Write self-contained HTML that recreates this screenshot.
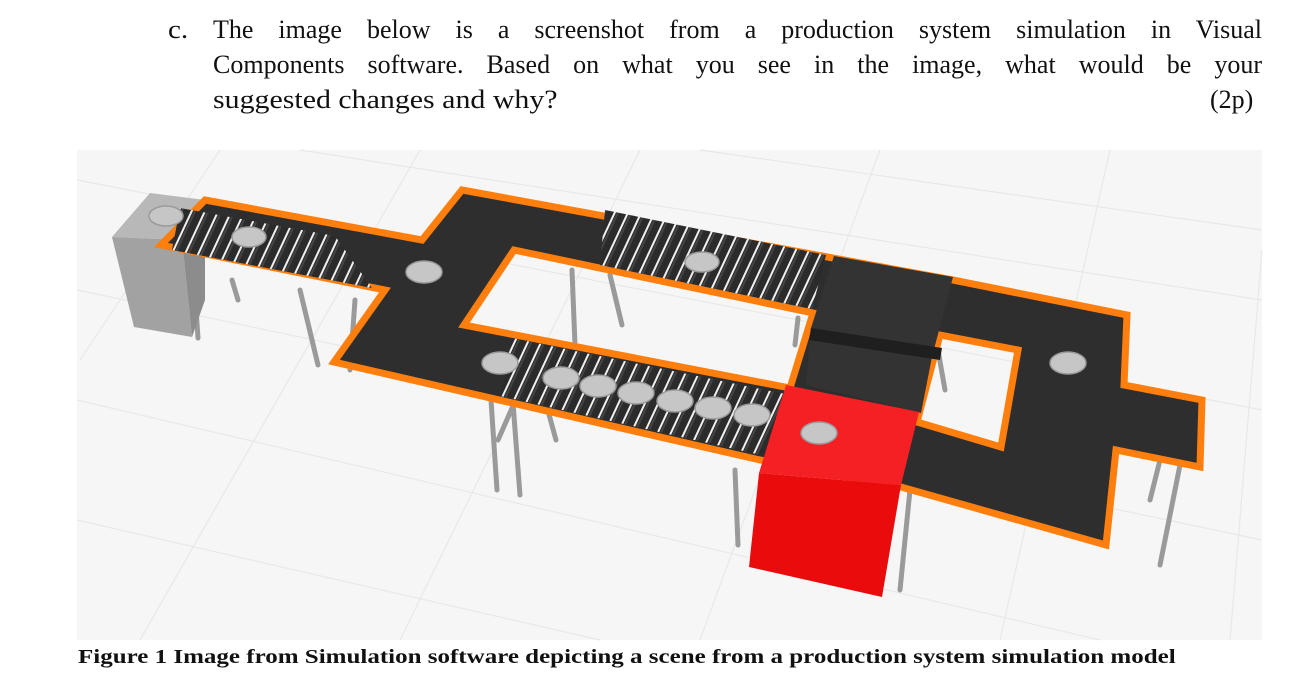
<!DOCTYPE html>
<html><head><meta charset="utf-8"><style>
body{margin:0;width:1298px;height:697px;background:#fff;position:relative;overflow:hidden;font-family:"Liberation Serif",serif;}
.t{position:absolute;font-size:26px;line-height:35px;color:#111;white-space:nowrap;}
.j{left:213px;width:1049px;text-align:justify;text-align-last:justify;white-space:normal;}
</style></head><body>
<div class="t" style="left:168px;top:12px;transform:scaleX(1.12);transform-origin:left">c.</div>
<div class="t j" style="top:12px">The image below is a screenshot from a production system simulation in Visual</div>
<div class="t j" style="top:47px">Components software. Based on what you see in the image, what would be your</div>
<div class="t" style="left:213px;top:82px;transform:scaleX(1.15);transform-origin:left">suggested changes and why?</div>
<div class="t" style="left:1210px;top:82px">(2p)</div>
<svg style="position:absolute;left:0;top:0" width="1298" height="697">
<defs>
<pattern id="rl" width="12" height="40" patternUnits="userSpaceOnUse" patternTransform="rotate(25)">
<rect width="12" height="40" fill="#f0f0f0"/><rect x="0" width="10" height="40" fill="#2b2b2b"/><rect x="1" width="2" height="40" fill="#444"/></pattern>
</defs>
<rect x="77" y="150" width="1185" height="490" fill="#f6f6f6"/>
<g stroke="#e8e8e8" stroke-width="1.2">
<line x1="77" y1="180" x2="1262" y2="410"/><line x1="77" y1="290" x2="1262" y2="540"/><line x1="77" y1="400" x2="1100" y2="640"/><line x1="77" y1="520" x2="600" y2="640"/><line x1="300" y1="150" x2="1262" y2="300"/><line x1="700" y1="150" x2="1262" y2="230"/>
<line x1="220" y1="150" x2="80" y2="360"/><line x1="420" y1="150" x2="140" y2="640"/><line x1="640" y1="150" x2="400" y2="640"/><line x1="880" y1="150" x2="700" y2="640"/><line x1="1110" y1="150" x2="1000" y2="640"/><line x1="1262" y1="250" x2="1230" y2="640"/>
</g>
<g stroke="#9a9a9a" stroke-width="5" stroke-linecap="round">
<line x1="300" y1="290" x2="318" y2="365"/><line x1="355" y1="300" x2="350" y2="370"/><line x1="232" y1="280" x2="238" y2="300"/><line x1="192" y1="250" x2="198" y2="338"/>
<line x1="490" y1="385" x2="497" y2="490"/><line x1="512" y1="390" x2="520" y2="495"/><line x1="545" y1="400" x2="556" y2="440"/><line x1="498" y1="440" x2="520" y2="390"/>
<line x1="572" y1="270" x2="575" y2="345"/><line x1="610" y1="275" x2="622" y2="325"/><line x1="798" y1="318" x2="795" y2="345"/>
<line x1="735" y1="470" x2="738" y2="545"/><line x1="910" y1="490" x2="900" y2="590"/><line x1="1160" y1="460" x2="1150" y2="500"/><line x1="1180" y1="465" x2="1160" y2="565"/><line x1="938" y1="350" x2="945" y2="390"/>
</g>
<polygon points="150,193 205,200 182,240 112,237" fill="#b8b8b8"/>
<polygon points="112,237 182,240 192,337 134,327" fill="#a2a2a2"/>
<polygon points="182,240 205,200 205,300 192,337" fill="#8c8c8c"/>
<path fill-rule="evenodd" fill="#2e2e2e" stroke="#ff7f0e" stroke-width="7" stroke-linejoin="miter"
d="M205,200 L422,240 L462,190 L833,258 L953,280 L1127,315 L1124,385 L1202,400 L1200,467 L1116,450 L1106,545 L901,487 L760,460 L334,362 L385,290 L161,245 Z
M514,250 L813,313 L790,388 L464,325 Z M940,335 L1018,350 L1001,447 L917,422 Z"/>
<polygon points="180,208 335,236 372,288 172,250" fill="url(#rl)"/>
<polygon points="605,210 826,255 812,309 600,265" fill="url(#rl)"/>
<polygon points="512,338 785,394 765,456 500,396" fill="url(#rl)"/>
<polygon points="834,256 953,277 932,357 921,413 806,385 811,328" fill="#333"/>
<polygon points="811,328 942,348 940,360 809,340" fill="#1f1f1f"/>
<polygon points="786,385 919,412 901,485 759,473" fill="#f42024"/>
<polygon points="759,473 901,485 882,597 749,567" fill="#ea0b0d"/>
<g fill="#c6c6c6" stroke="#9a9a9a" stroke-width="1.5">
<ellipse cx="166" cy="216" rx="17" ry="10"/><ellipse cx="249" cy="237" rx="17" ry="10"/><ellipse cx="424" cy="272" rx="18" ry="11"/><ellipse cx="500" cy="363" rx="18" ry="11"/>
<ellipse cx="561" cy="378" rx="18" ry="11"/><ellipse cx="598" cy="386" rx="18" ry="11"/><ellipse cx="636" cy="393" rx="18" ry="11"/><ellipse cx="675" cy="401" rx="18" ry="11"/><ellipse cx="713" cy="408" rx="18" ry="11"/><ellipse cx="752" cy="415" rx="18" ry="11"/>
<ellipse cx="702" cy="262" rx="17" ry="10"/><ellipse cx="1068" cy="363" rx="18" ry="11"/><ellipse cx="819" cy="433" rx="18" ry="11"/>
</g>
</svg>
<div style="position:absolute;left:78px;top:646px;font-size:20px;font-weight:bold;color:#111;white-space:nowrap;transform:scaleX(1.25);transform-origin:left">Figure 1 Image from Simulation software depicting a scene from a production system simulation model</div>
</body></html>
